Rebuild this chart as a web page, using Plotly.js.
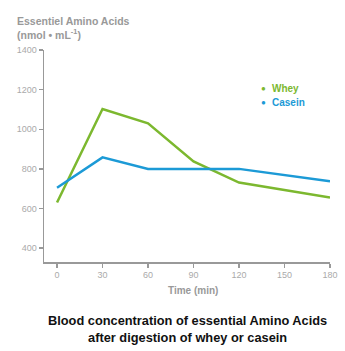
<!DOCTYPE html>
<html><head><meta charset="utf-8">
<script src="https://cdn.plot.ly/plotly-3.0.1.min.js"></script>
<style>html,body{margin:0;padding:0;background:#fff}#c{width:345px;height:351px}</style>
</head><body><div id="c"></div>
<script>
const times = [0, 30, 60, 90, 120, 180];
const whey = [630, 1102, 1030, 838, 731, 656];
const casein = [705, 858, 800, 800, 800, 737];
const seriesNames = ['Whey', 'Casein'];
const colors = ['#7cb82f', '#1c9ad6'];
const xTicks = [0, 30, 60, 90, 120, 150, 180];
const yTicks = [400, 600, 800, 1000, 1200, 1400];

const traces = [
  {x: times, y: whey, mode: 'lines', line: {color: colors[0], width: 2.5}, showlegend: false, hoverinfo: 'skip'},
  {x: times, y: casein, mode: 'lines', line: {color: colors[1], width: 2.5}, showlegend: false, hoverinfo: 'skip'}
];

const legendAnns = [];
seriesNames.forEach((n, i) => {
  const yy = 0.817 - i * 0.066;
  legendAnns.push({xref: 'paper', yref: 'paper', x: 0.768, y: yy, xanchor: 'center', yanchor: 'middle', showarrow: false,
    text: '●', font: {size: 8, color: colors[i]}});
  legendAnns.push({xref: 'paper', yref: 'paper', x: 0.79, y: yy, xanchor: 'left', yanchor: 'middle', showarrow: false,
    text: '<b>' + n + '</b>', font: {size: 10, color: colors[i]}});
});

const layout = {
  width: 345, height: 351,
  margin: {l: 44, r: 15, t: 50, b: 89},
  paper_bgcolor: '#fff', plot_bgcolor: '#fff',
  font: {family: 'Liberation Sans, Arial, sans-serif', size: 9, color: '#999'},
  showlegend: false,
  xaxis: {range: [-8.6, 180], tickvals: xTicks, ticktext: xTicks.map(String),
          showgrid: false, zeroline: false, showline: true, linecolor: '#999', linewidth: 1.5,
          ticks: 'outside', ticklen: 4, tickcolor: '#999', tickwidth: 1.5,
          tickfont: {size: 9, color: '#aaa'}, fixedrange: true},
  yaxis: {range: [330, 1400], tickvals: yTicks, ticktext: yTicks.map(String),
          showgrid: false, zeroline: false, showline: true, linecolor: '#999', linewidth: 1.5,
          ticks: 'outside', ticklen: 4, tickcolor: '#999', tickwidth: 1.5,
          tickfont: {size: 9, color: '#aaa'}, fixedrange: true},
  annotations: [
    {xref: 'paper', yref: 'paper', x: -0.1, y: 1.034, xanchor: 'left', yanchor: 'bottom', showarrow: false, align: 'left',
     text: '<b>Essentiel Amino Acids<br>(nmol • mL<sup>-1</sup>)</b>', font: {size: 10.5, color: '#999'}},
    {xref: 'paper', yref: 'paper', x: 0.52, y: -0.1, xanchor: 'center', yanchor: 'top', showarrow: false,
     text: '<b>Time (min)</b>', font: {size: 10, color: '#999'}},
    {xref: 'paper', yref: 'paper', x: 0.503, y: -0.23, xanchor: 'center', yanchor: 'top', showarrow: false, align: 'center',
     text: '<b>Blood concentration of essential Amino Acids<br>after digestion of whey or casein</b>', font: {size: 12.8, color: '#111'}}
  ].concat(legendAnns)
};
Plotly.newPlot('c', traces, layout, {displayModeBar: false, staticPlot: true});
</script></body></html>
